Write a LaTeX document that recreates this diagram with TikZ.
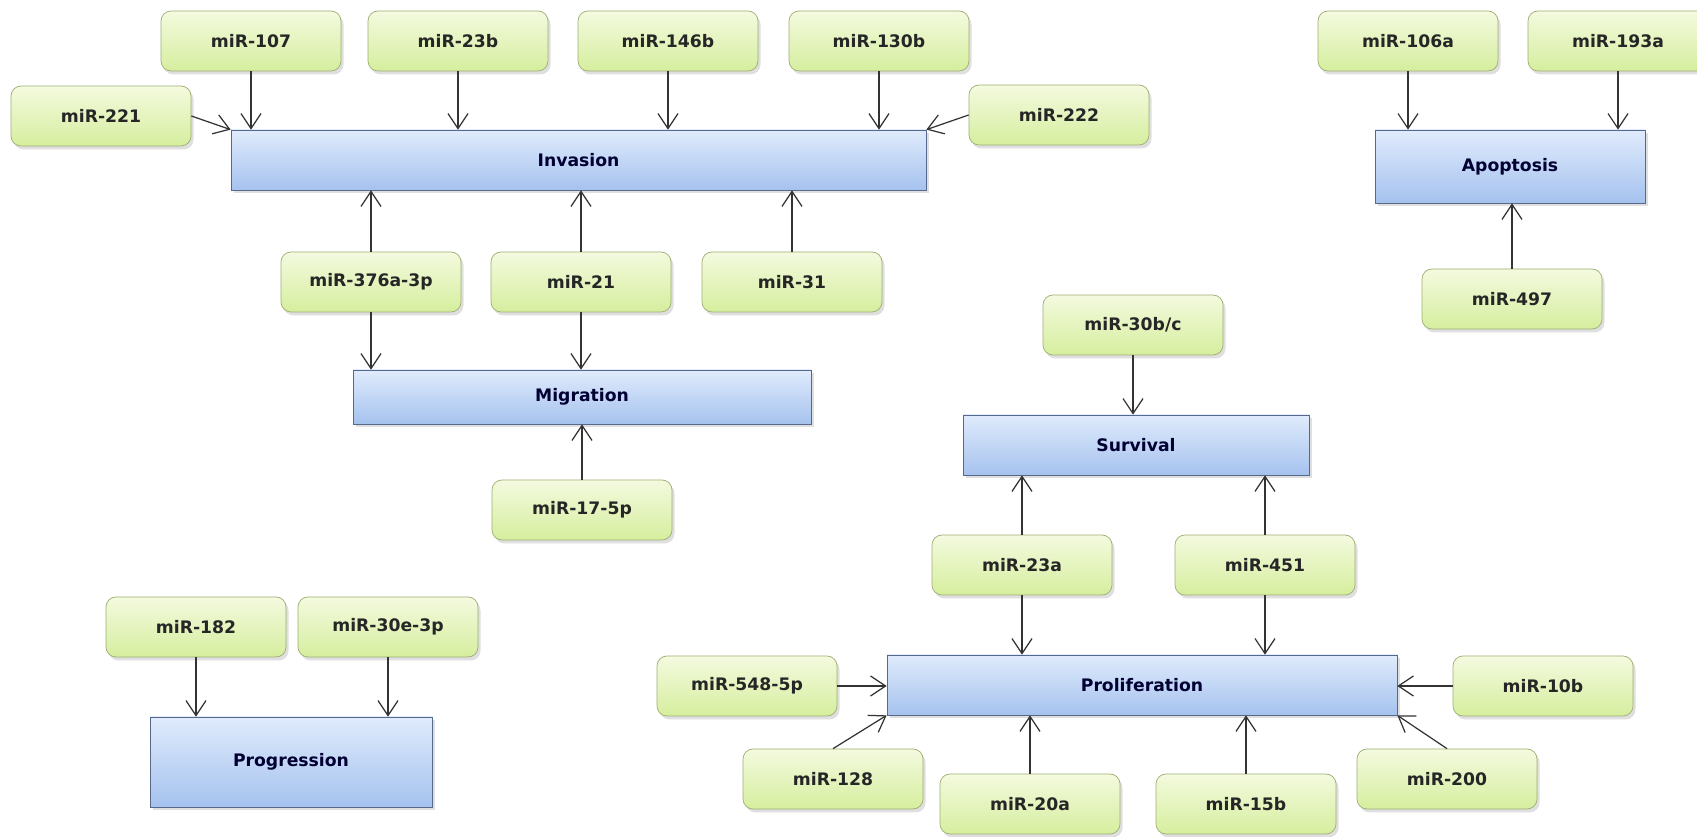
\documentclass[tikz,border=0pt]{standalone}
\usepackage{fontspec}
\setmainfont{DejaVu Sans}
\usetikzlibrary{arrows.meta,shadows}
\definecolor{mirtop}{HTML}{F4FADF}
\definecolor{mirbot}{HTML}{D6EE9E}
\definecolor{mirline}{HTML}{9DAE72}
\definecolor{proctop}{HTML}{E0EBFC}
\definecolor{procbot}{HTML}{A5C2EE}
\definecolor{procline}{HTML}{56698C}

\begin{document}
\begin{tikzpicture}[
  mir/.style={draw=mirline, rounded corners=0.2cm, top color=mirtop, bottom color=mirbot,
    minimum width=3.6cm, minimum height=1.2cm, inner sep=0pt,
    font=\bfseries\fontsize{9.8}{12}\selectfont, text=black!85,
    drop shadow={shadow xshift=0.05cm, shadow yshift=-0.07cm, opacity=0.25}},
  proc/.style={draw=procline, top color=proctop, bottom color=procbot, inner sep=0pt,
    font=\bfseries\fontsize{9.8}{12}\selectfont, text=black!80!blue,
    drop shadow={shadow xshift=0.05cm, shadow yshift=-0.07cm, opacity=0.25}},
  arr/.style={-{Straight Barb[length=0.3cm,width=0.4cm]}, line width=0.7pt, draw=black!80}
]
\useasboundingbox (0,0) rectangle (33.94,16.74);
\fill[white] (0,0) rectangle (33.94,16.74);

% processes
\node[proc, minimum width=13.9cm, minimum height=1.2cm] (inv) at (11.57,13.54) {Invasion};
\node[proc, minimum width=9.16cm, minimum height=1.08cm] (mig) at (11.64,8.80) {Migration};
\node[proc, minimum width=5.4cm, minimum height=1.46cm] (apo) at (30.20,13.41) {Apoptosis};
\node[proc, minimum width=6.92cm, minimum height=1.2cm] (surv) at (22.72,7.84) {Survival};
\node[proc, minimum width=10.2cm, minimum height=1.2cm] (prol) at (22.84,3.04) {Proliferation};
\node[proc, minimum width=5.64cm, minimum height=1.8cm] (prog) at (5.82,1.50) {Progression};

% microRNAs
\foreach \n/\x/\y/\t in {m107/5.02/15.92/miR-107, m23b/9.16/15.92/miR-23b,
    m146b/13.36/15.92/miR-146b, m130b/17.58/15.92/miR-130b,
    m221/2.02/14.42/miR-221, m222/21.18/14.44/miR-222,
    m376/7.42/11.10/miR-376a-3p, m21/11.62/11.10/miR-21, m31/15.84/11.10/miR-31,
    m175p/11.64/6.54/miR-17-5p,
    m106a/28.16/15.92/miR-106a, m193a/32.36/15.92/miR-193a, m497/30.24/10.76/miR-497,
    m30bc/22.66/10.24/{miR-30b/c}, m23a/20.44/5.44/miR-23a, m451/25.30/5.44/miR-451,
    m548/14.94/3.02/miR-548-5p, m10b/30.86/3.02/miR-10b,
    m128/16.66/1.16/miR-128, m20a/20.60/0.66/miR-20a,
    m15b/24.92/0.66/miR-15b, m200/28.94/1.16/miR-200,
    m182/3.92/4.20/miR-182, m30e/7.76/4.20/miR-30e-3p} {
  \node[mir] (\n) at (\x,\y) {\t};
}

% arrows from above
\foreach \a/\b in {m107/inv, m23b/inv, m146b/inv, m130b/inv, m376/mig, m21/mig,
    m106a/apo, m193a/apo, m30bc/surv, m23a/prol, m451/prol, m182/prog, m30e/prog} {
  \draw[arr] (\a.south) -- (\a.south |- \b.north);
}
% arrows from below
\foreach \a/\b in {m376/inv, m21/inv, m31/inv, m175p/mig, m497/apo,
    m23a/surv, m451/surv, m20a/prol, m15b/prol} {
  \draw[arr] (\a.north) -- (\a.north |- \b.south);
}
% side arrows
\draw[arr] (m221.east) -- (inv.north west);
\draw[arr] (m222.west) -- (inv.north east);
\draw[arr] (m548.east) -- (m548.east -| prol.west);
\draw[arr] (m10b.west) -- (m10b.west -| prol.east);
\draw[arr] (m128.north) -- (prol.south west);
\draw[arr] (m200.north) -- (prol.south east);
\end{tikzpicture}
\end{document}
